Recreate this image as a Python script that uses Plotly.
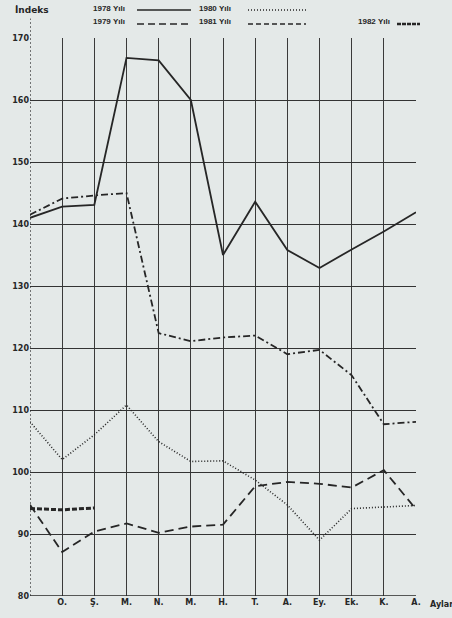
import plotly.graph_objects as go

# Data
x_idx = list(range(13))
tick_labels = ["", "O.", "Ş.", "M.", "N.", "M.", "H.", "T.", "A.", "Ey.", "Ek.", "K.", "A."]
y_ticks = [80, 90, 100, 110, 120, 130, 140, 150, 160, 170]

y1978 = [141.0, 142.8, 143.1, 166.8, 166.4, 160.0, 135.0, 143.6, 135.8, 132.9, 135.9, 138.8, 141.9]
y1979 = [141.5, 144.1, 144.6, 145.0, 122.4, 121.1, 121.7, 122.0, 119.0, 119.7, 115.6, 107.7, 108.1]
y1980 = [108.1, 102.0, 106.0, 110.8, 104.9, 101.7, 101.8, 98.7, 94.7, 89.0, 94.1, 94.4, 94.6]
y1981 = [94.7, 87.1, 90.4, 91.7, 90.2, 91.2, 91.5, 97.7, 98.4, 98.1, 97.5, 100.3, 94.0]
y1982 = [94.1, 93.9, 94.2]

series = [
    ("1978 Yılı", y1978, "solid", 1.8),
    ("1979 Yılı", y1979, "7px,3px,2px,3px", 1.8),
    ("1980 Yılı", y1980, "1px,2px", 1.6),
    ("1981 Yılı", y1981, "9px,5px", 1.8),
    ("1982 Yılı", y1982, "5px,2px", 3.0),
]

INK = "#262626"
BG = "#e4e9e8"
FONT = "DejaVu Sans"

fig = go.Figure()
for name, ys, dash, w in series:
    fig.add_trace(go.Scatter(
        x=x_idx[:len(ys)], y=ys, mode="lines", name=name,
        line=dict(color=INK, width=w, dash=dash), showlegend=False,
    ))

fig.update_layout(
    width=452, height=618,
    margin=dict(l=30, r=36, t=38, b=22),
    paper_bgcolor=BG, plot_bgcolor=BG,
    font=dict(family=FONT, color=INK),
    xaxis=dict(
        range=[0, 12], tickmode="array", tickvals=x_idx, ticktext=tick_labels,
        showgrid=True, gridcolor="#3a3a3a", gridwidth=1.1,
        zeroline=False, showline=False, ticks="",
        tickfont=dict(family=FONT, size=8, weight="bold", color=INK),
    ),
    yaxis=dict(
        range=[80, 170], tickmode="array", tickvals=y_ticks,
        showgrid=True, gridcolor="#333333", gridwidth=1.2,
        zeroline=False, showline=False, ticks="",
        tickfont=dict(family=FONT, size=8, weight="bold", color=INK),
    ),
)

# dotted left axis line (extends a little above plot)
fig.add_shape(type="line", xref="x", yref="paper", x0=0, x1=0, y0=0, y1=1.035,
              line=dict(color=INK, width=1.2, dash="2px,2px"))
# bottom axis line
fig.add_shape(type="line", xref="paper", yref="y", x0=0, x1=1, y0=80, y1=80,
              line=dict(color=INK, width=1.6))

def px_x(px):
    return (px - 30) / 386.0

def px_y(py):
    return (596 - py) / 558.0

# Legend built manually
legend_items = [
    ("1978 Yılı", 91, 137, 191, 8, "solid", 1.4),
    ("1980 Yılı", 197, 248, 306, 8, "1px,2px", 1.4),
    ("1979 Yılı", 91, 137, 191, 22, "7px,4px", 1.4),
    ("1981 Yılı", 197, 248, 306, 22, "5px,3px", 1.4),
    ("1982 Yılı", 356, 397, 420, 22, "4px,1px", 2.6),
]
for text, tx, lx0, lx1, ty, dash, w in legend_items:
    fig.add_annotation(text=text, xref="paper", yref="paper", x=px_x(tx), y=px_y(ty),
                       xanchor="left", yanchor="middle", showarrow=False,
                       font=dict(family="Liberation Sans", size=8, weight="bold", color=INK))
    fig.add_shape(type="line", xref="paper", yref="paper",
                  x0=px_x(lx0), x1=px_x(lx1), y0=px_y(ty + 2), y1=px_y(ty + 2),
                  line=dict(color=INK, width=w, dash=dash))

fig.add_annotation(text="İndeks", xref="paper", yref="paper", x=px_x(13), y=px_y(10),
                   xanchor="left", yanchor="middle", showarrow=False,
                   font=dict(family=FONT, size=9, weight="bold", color=INK))
fig.add_annotation(text="Aylar", xref="paper", yref="paper", x=px_x(428), y=px_y(604),
                   xanchor="left", yanchor="middle", showarrow=False,
                   font=dict(family=FONT, size=8, weight="bold", color=INK))

fig.write_html(
    "out.html",
    config={"displayModeBar": False},
    post_script="document.body.style.margin='0';document.body.style.background='" + BG + "';",
)
